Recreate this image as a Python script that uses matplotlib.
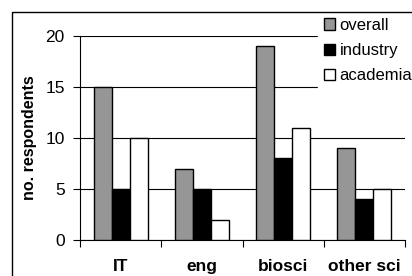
import matplotlib.pyplot as plt
import numpy as np
from matplotlib.patches import Rectangle

plt.rcParams['font.family'] = ['Liberation Sans', 'DejaVu Sans']

categories = ["IT", "eng", "biosci", "other sci"]
overall = [15, 7, 19, 9]
industry = [5, 5, 8, 4]
academia = [10, 2, 11, 5]
series_names = ["overall", "industry", "academia"]
yticks = [0, 5, 10, 15, 20]

fig = plt.figure(figsize=(4.12, 2.76), dpi=100)
ax = fig.add_axes([80/412, 1 - 240/276, (405 - 80)/412, (240 - 36)/276])

x = np.arange(len(categories)) + 0.5
w = 0.222
colors = ["#969696", "black", "white"]
for k, (vals, c, name) in enumerate(zip([overall, industry, academia], colors, series_names)):
    ax.bar(x + (k - 1)*w, vals, w, color=c, edgecolor="black", linewidth=1.0,
           label=name, zorder=3)

ax.set_xlim(0, 4)
ax.set_ylim(0, 20)
ax.set_yticks(yticks)
ax.grid(axis="y", color="black", linewidth=0.8, zorder=0)
ax.set_axisbelow(True)

for s in ["top", "right"]:
    ax.spines[s].set_visible(False)
ax.spines["left"].set_linewidth(0.8)
ax.spines["bottom"].set_linewidth(0.8)

ax.set_xticks(np.arange(5))
ax.set_xticklabels([])
ax.set_xticks(x, minor=True)
ax.set_xticklabels(categories, minor=True, fontweight="bold", fontsize=12.5)
ax.tick_params(axis="x", which="major", direction="out", length=5, width=0.8)
ax.tick_params(axis="x", which="minor", length=0, pad=14)
ax.tick_params(axis="y", direction="out", length=5, width=0.8, labelsize=12.5, pad=6)

ax.set_ylabel("no. respondents", fontweight="bold", fontsize=11.5, labelpad=6)

leg = ax.legend(loc="upper left", bbox_to_anchor=((318 - 80)/325, (240 - 12)/204),
                frameon=True, fancybox=False, edgecolor="white", facecolor="white",
                framealpha=1, fontsize=12, handlelength=0.65, handleheight=0.65,
                handletextpad=0.3, labelspacing=0.62, borderpad=0.35, borderaxespad=0)
leg.set_zorder(5)

fig.add_artist(Rectangle((12/412, -0.1), 1.2, 1.1 - 12/276, transform=fig.transFigure,
                         fill=False, edgecolor="black", linewidth=1.0))

fig.savefig("out.png", dpi=100)
